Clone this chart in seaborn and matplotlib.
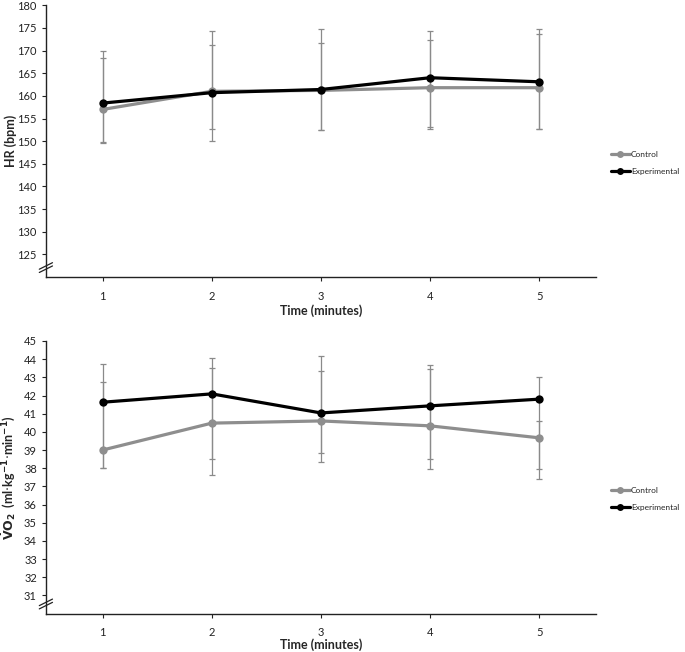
import numpy as np
import pandas as pd
import seaborn as sns
import matplotlib.pyplot as plt

# values
time = [1, 2, 3, 4, 5]
groups = ["Control", "Experimental"]

hr_control = [157.0, 161.0, 161.2, 161.8, 161.8]
hr_exp = [158.4, 160.7, 161.4, 164.0, 163.1]
hr_control_lo = [149.5, 150.0, 152.4, 152.6, 152.6]
hr_control_hi = [168.4, 171.2, 171.7, 172.3, 173.6]
hr_exp_lo = [149.8, 152.6, 152.4, 153.1, 152.6]
hr_exp_hi = [170.0, 174.2, 174.7, 174.4, 174.7]

vo2_control = [39.0, 40.48, 40.6, 40.33, 39.67]
vo2_exp = [41.63, 42.09, 41.04, 41.43, 41.8]
vo2_control_lo = [38.0, 37.6, 38.35, 37.95, 37.43]
vo2_control_hi = [42.75, 43.52, 43.35, 43.48, 40.57]
vo2_exp_lo = [38.0, 38.53, 38.86, 38.53, 37.93]
vo2_exp_hi = [43.76, 44.09, 44.18, 43.70, 43.0]

hr_ticks = list(range(125, 181, 5))
vo2_ticks = list(range(31, 46))

sns.set_style("ticks")
plt.rcParams["font.family"] = ["Lato", "DejaVu Sans"]
plt.rcParams["mathtext.fontset"] = "dejavusans"

palette = {"Control": "#8e8e8e", "Experimental": "#000000"}
err_color = "#8a8a8a"

fig = plt.figure(figsize=(6.85, 6.52), dpi=100)
ax1 = fig.add_axes([0.067, 0.575, 0.803, 0.417])
ax2 = fig.add_axes([0.067, 0.059, 0.803, 0.418])


def panel(ax, ctrl, exp, c_lo, c_hi, e_lo, e_hi, ylim, yticks, ylabel, xlab_y):
    df = pd.DataFrame({
        "time": time * 2,
        "value": ctrl + exp,
        "group": [groups[0]] * len(time) + [groups[1]] * len(time),
    })
    for mean, lo, hi in [(ctrl, c_lo, c_hi), (exp, e_lo, e_hi)]:
        mean = np.array(mean)
        yerr = [mean - np.array(lo), np.array(hi) - mean]
        ax.errorbar(time, mean, yerr=yerr, fmt="none", ecolor=err_color,
                    elinewidth=0.9, capsize=2.5, capthick=0.9, zorder=1)
    sns.lineplot(data=df, x="time", y="value", hue="group", palette=palette,
                 marker="o", markersize=6, markeredgewidth=0, linewidth=2.3,
                 ax=ax, zorder=3)
    ax.set_xlim(0.48, 5.52)
    ax.set_ylim(*ylim)
    ax.set_yticks(yticks)
    ax.set_xticks(time)
    ax.tick_params(labelsize=8, length=3, width=0.8, colors="#222222")
    ax.tick_params(axis="x", pad=7)
    for s in ["top", "right"]:
        ax.spines[s].set_visible(False)
    for s in ["left", "bottom"]:
        ax.spines[s].set_color("#222222")
        ax.spines[s].set_linewidth(1.0)
    ax.set_xlabel("Time (minutes)", fontsize=9, fontweight="bold")
    ax.xaxis.set_label_coords(0.5, xlab_y)
    ax.set_ylabel(ylabel, fontsize=9, fontweight="bold")
    ax.yaxis.set_label_coords(-0.052, 0.5)
    # axis break mark
    for dy in (-0.006, 0.006):
        ax.plot([-0.012, 0.012], [0.035 + dy - 0.012, 0.035 + dy + 0.012],
                transform=ax.transAxes, color="#222222", lw=0.9, clip_on=False)
    leg = ax.legend(loc="center left", bbox_to_anchor=(1.018, 0.42),
                    frameon=False, fontsize=6, handlelength=2.3,
                    handletextpad=0.1, labelspacing=1.15, borderaxespad=0.2)
    for h in leg.legend_handles:
        h.set_markersize(5)


panel(ax1, hr_control, hr_exp, hr_control_lo, hr_control_hi, hr_exp_lo,
      hr_exp_hi, (120, 180), hr_ticks, "HR (bpm)", -0.1)
panel(ax2, vo2_control, vo2_exp, vo2_control_lo, vo2_control_hi, vo2_exp_lo,
      vo2_exp_hi, (30, 45), vo2_ticks,
      r"$\mathbf{\dot{V}O_2}$  (ml$\cdot$kg$^{\mathbf{-1}}$$\cdot$min$^{\mathbf{-1}}$)",
      -0.09)

fig.savefig("out.png", dpi=100)
